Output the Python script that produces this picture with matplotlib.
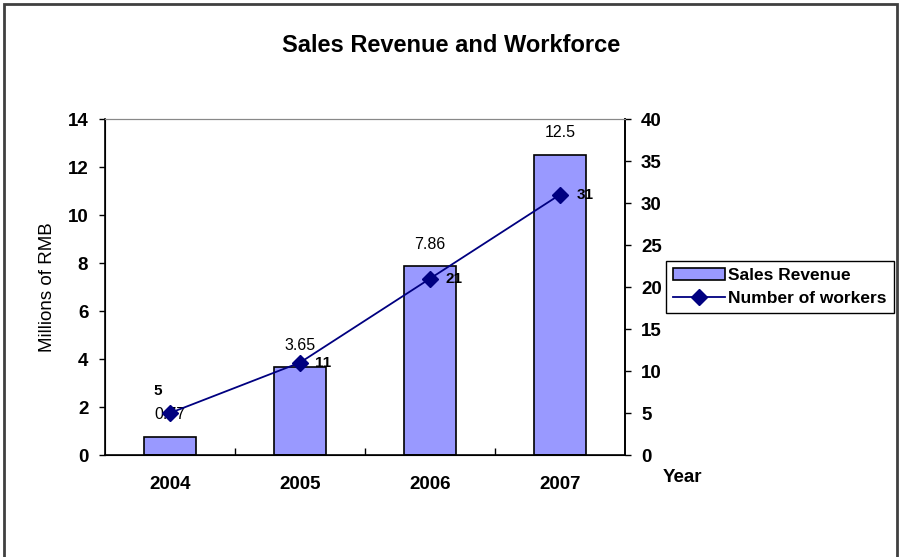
import matplotlib.pyplot as plt
import numpy as np
from matplotlib.patches import Rectangle

plt.rcParams['font.family'] = ['Liberation Sans', 'DejaVu Sans']

years = ['2004', '2005', '2006', '2007']
revenue = [0.77, 3.65, 7.86, 12.5]
workers = [5, 11, 21, 31]

bar_color = '#9999ff'
line_color = '#000080'

fig = plt.figure(figsize=(9.02, 5.57), dpi=100)
ax = fig.add_axes([105 / 902, 1 - 455 / 557, 520 / 902, 336 / 557])
x = np.arange(len(years))

bars = ax.bar(x, revenue, width=0.4, color=bar_color, edgecolor='black',
              linewidth=1.2, label='Sales Revenue', zorder=2)
ax.set_xlim(-0.5, len(years) - 0.5)
ax.set_ylim(0, 14)
ax.set_yticks(range(0, 15, 2))
ax.set_xticks(x)
ax.set_xticklabels(years, fontsize=13.5, fontweight='bold')
ax.set_xticks(np.arange(0.5, len(years) - 1, 1), minor=True)
ax.tick_params(axis='x', which='major', length=0, pad=15)
ax.tick_params(axis='x', which='minor', direction='in', length=5, width=1)
ax.tick_params(axis='y', direction='out', length=4, width=1, labelsize=13.5, pad=8)
for lab in ax.get_yticklabels():
    lab.set_fontweight('bold')
ax.set_ylabel('Millions of RMB', fontsize=13.5, labelpad=8)

ax.spines['top'].set_color('#888888')
for s in ['left', 'bottom', 'right']:
    ax.spines[s].set_linewidth(1.2)

# revenue values above the bars
for xi, v in zip(x, revenue):
    ax.annotate(f'{v:g}', (xi, v), xytext=(0, 16), textcoords='offset points',
                ha='center', va='center', fontsize=11.5)

ax2 = ax.twinx()
line, = ax2.plot(x, workers, color=line_color, marker='D', markersize=8,
                 linewidth=1.3, label='Number of workers', zorder=3)
ax2.set_ylim(0, 40)
ax2.set_yticks(range(0, 41, 5))
ax2.tick_params(axis='y', direction='out', length=4, width=1, labelsize=13.5, pad=7.5)
for lab in ax2.get_yticklabels():
    lab.set_fontweight('bold')
ax2.spines['top'].set_color('#888888')
ax2.spines['right'].set_linewidth(1.2)

# worker counts beside the markers
offsets = [(-9, 16), (11, 0), (11, 0), (12, 0)]
for xi, w, off in zip(x, workers, offsets):
    ax2.annotate(str(w), (xi, w), xytext=off, textcoords='offset points',
                 ha='center' if off[0] < 0 else 'left', va='center',
                 fontsize=11, fontweight='bold')

fig.text(0.5, 1 - 45 / 557, 'Sales Revenue and Workforce', ha='center',
         va='center', fontsize=17, fontweight='bold')
fig.text(682 / 902, 1 - 477 / 557, 'Year', ha='center', va='center',
         fontsize=13.5, fontweight='bold')

leg = fig.legend([bars, line], ['Sales Revenue', 'Number of workers'],
                 loc='center left', bbox_to_anchor=(666 / 902, 1 - 287 / 557),
                 fancybox=False, edgecolor='black', framealpha=1,
                 prop={'weight': 'bold', 'size': 12.5}, borderpad=0.4,
                 handlelength=3.0, handletextpad=0.2, labelspacing=0.5,
                 borderaxespad=0)
leg.get_frame().set_linewidth(1)

# outer chart frame
fig.patches.append(Rectangle((4 / 902, -0.01), 893 / 902, 1 - 4 / 557 + 0.01,
                             transform=fig.transFigure, fill=False,
                             edgecolor='#404040', linewidth=2))

fig.savefig('out.png', dpi=100)
